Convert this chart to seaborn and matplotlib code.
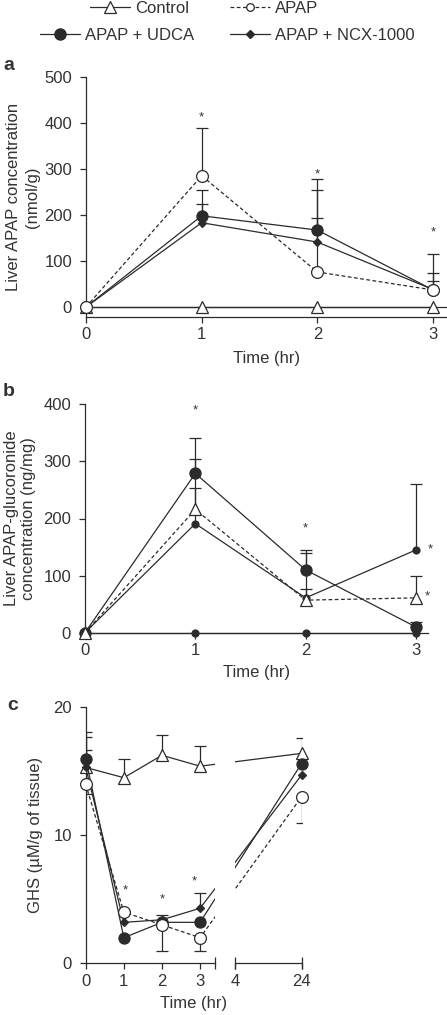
import numpy as np
import matplotlib
matplotlib.use('Agg')
import matplotlib.pyplot as plt
from matplotlib.lines import Line2D
import seaborn as sns

# ---- data ----
groups = ['Control', 'APAP', 'APAP + UDCA', 'APAP + NCX-1000']

# a: liver APAP (nmol/g)
time_ab = [0, 1, 2, 3]
a_control = [0, 0, 0, 0]
a_apap = [0, 285, 76, 37]
a_udca = [0, 198, 167, 37]
a_ncx = [0, 183, 141, 38]
a_apap_hi = [0, 103, 202, 78]
a_udca_hi = [0, 55, 87, 37]
a_ncx_hi = [0, 40, 52, 18]
a_stars_x = [1, 2, 3]
a_stars_y = [411, 288, 162]

# b: liver APAP-glucoronide (ng/mg)
b_control = [0, 0, 0, 0]
b_apap = [0, 216, 57, 61]
b_udca = [0, 279, 110, 10]
b_ncx = [0, 191, 61, 145]
b_apap_hi = [0, 37, 20, 39]
b_udca_hi = [0, 62, 34, 9]
b_ncx_hi = [0, 113, 78, 115]
b_stars_x = [1, 2, 3.13, 3.1]
b_stars_y = [390, 183, 146, 63]

# c: GHS (uM/g of tissue)
time_c = [0, 1, 2, 3, 24]
c_control = [15.3, 14.5, 16.25, 15.4, 16.4]
c_apap = [14.0, 4.0, 3.0, 2.0, 13.0]
c_udca = [16.0, 2.0, 3.2, 3.2, 15.6]
c_ncx = [15.3, 3.2, 3.4, 4.3, 14.7]
c_control_hi = [1.4, 1.5, 1.55, 1.6, 1.2]
c_apap_lo = [0.8, 0, 2.05, 1.0, 2.0]
c_udca_hi = [1.7, 0, 0, 0, 0]
c_ncx_hi = [2.8, 0, 0.4, 1.2, 0]
c_stars_x = [1.05, 2.0, 2.85]
c_stars_y = [5.7, 5.0, 6.4]
c_ticks = [0, 1, 2, 3, 4, 24]

# ---- styling ----
sns.set_style('ticks')
plt.rcParams['font.family'] = ['Liberation Sans', 'DejaVu Sans']
plt.rcParams['font.size'] = 12
TXT = '#333333'
LC = '#2b2b2b'
plt.rcParams.update({'text.color': TXT, 'axes.labelcolor': TXT,
                     'xtick.color': LC, 'ytick.color': LC,
                     'xtick.labelcolor': TXT, 'ytick.labelcolor': TXT,
                     'xtick.labelsize': 12, 'ytick.labelsize': 12,
                     'axes.labelsize': 12,
                     'axes.edgecolor': LC, 'axes.linewidth': 0.9,
                     'xtick.major.width': 0.9, 'ytick.major.width': 0.9,
                     'xtick.major.size': 4.5, 'ytick.major.size': 4.5,
                     'xtick.major.pad': 3, 'ytick.major.pad': 5.5})

DASH = (0, (3, 2))
tri = dict(marker='^', markersize=8, markerfacecolor='white', linestyle='-')
opn = dict(marker='o', markersize=8.5, markerfacecolor='white', linestyle=DASH)
big = dict(marker='o', markersize=8, markerfacecolor=LC, linestyle='-')
dia = dict(marker='D', markersize=4, markerfacecolor=LC, linestyle='-')
dot = dict(marker='o', markersize=5, markerfacecolor=LC, linestyle='-')
tri_d = dict(tri, linestyle=DASH)


def draw(ax, x, y, st, hi=None, lo=None):
    sns.lineplot(x=x, y=y, ax=ax, color=LC, linewidth=0.9, markeredgecolor=LC,
                 markeredgewidth=0.9, errorbar=None, clip_on=False, zorder=3, **st)
    for xi, yi, h in zip(x, y, hi or [0] * len(x)):
        if h > 0:
            ax.vlines(xi, yi, yi + h, color=LC, lw=0.9, zorder=2)
            ax.plot([xi], [yi + h], marker='_', ms=8.5, mew=0.9, color=LC, zorder=2)
    for xi, yi, l in zip(x, y, lo or [0] * len(x)):
        if l > 0:
            ax.vlines(xi, yi - l, yi, color=LC, lw=0.9, zorder=2)
            ax.plot([xi], [yi - l], marker='_', ms=8.5, mew=0.9, color=LC, zorder=2)


def stars(ax, xs, ys):
    for sx, sy in zip(xs, ys):
        ax.text(sx, sy, '*', ha='center', va='center', fontsize=9.5, color=TXT)


W, H = 447, 1015
fig = plt.figure(figsize=(W / 100, H / 100), dpi=100)

# ---- panel a ----
ax = fig.add_axes([86 / W, 1 - 317 / H, (447 - 86) / W, (317 - 76.7) / H])
ax.axhline(0, color=LC, lw=0.9, zorder=2)
draw(ax, time_ab, a_control, tri)
draw(ax, time_ab, a_ncx, dia, hi=a_ncx_hi)
draw(ax, time_ab, a_udca, big, hi=a_udca_hi)
draw(ax, time_ab, a_apap, opn, hi=a_apap_hi)
stars(ax, a_stars_x, a_stars_y)
ax.set_xlim(0, 3.121)
ax.set_ylim(-21.7, 500)
ax.set_xticks(time_ab)
ax.set_yticks([0, 100, 200, 300, 400, 500])
ax.set_xlabel('Time (hr)', labelpad=6)
ax.set_ylabel('Liver APAP concentration\n(nmol/g)', labelpad=3, linespacing=1.3)
sns.despine(ax=ax)

# ---- panel b ----
ax = fig.add_axes([85 / W, 1 - 632.7 / H, (428 - 85) / W, (632.7 - 404.3) / H])
draw(ax, time_ab, b_control, dot)
draw(ax, time_ab, b_ncx, dot, hi=b_ncx_hi)
draw(ax, time_ab, b_udca, big, hi=b_udca_hi)
draw(ax, time_ab, b_apap, tri_d, hi=b_apap_hi)
stars(ax, b_stars_x, b_stars_y)
ax.set_xlim(0, 3.109)
ax.set_ylim(0, 400)
ax.set_xticks(time_ab)
ax.set_yticks([0, 100, 200, 300, 400])
ax.set_xlabel('Time (hr)', labelpad=5)
ax.set_ylabel('Liver APAP-glucoronide\nconcentration (ng/mg)', labelpad=5, linespacing=1.2)
sns.despine(ax=ax)


# ---- panel c (broken time axis) ----
def fwd(t):
    t = np.asarray(t, dtype=float)
    return np.where(t <= 3.4, t, np.where(t <= 4, 3.4 + (t - 3.4) * (0.52 / 0.6),
                                          3.92 + (t - 4) * (1.74 / 20)))


def inv(v):
    v = np.asarray(v, dtype=float)
    return np.where(v <= 3.4, v, np.where(v <= 3.92, 3.4 + (v - 3.4) * (0.6 / 0.52),
                                          4 + (v - 3.92) * (20 / 1.74)))


ax = fig.add_axes([85.7 / W, 1 - 963.3 / H, (301.5 - 85.7) / W, (963.3 - 707.3) / H])
ax.set_xscale('function', functions=(fwd, inv))
draw(ax, time_c, c_control, tri, hi=c_control_hi)
draw(ax, time_c, c_ncx, dia, hi=c_ncx_hi)
draw(ax, time_c, c_udca, big, hi=c_udca_hi)
draw(ax, time_c, c_apap, opn, lo=c_apap_lo)
stars(ax, c_stars_x, c_stars_y)
ax.axvspan(3.4, 4, color='white', zorder=4, lw=0)
ax.set_xlim(0, 24)
ax.set_ylim(0, 20)
ax.set_xticks(c_ticks)
ax.set_xticklabels([str(t) for t in c_ticks])
ax.set_yticks([0, 10, 20])
sns.despine(ax=ax)
ax.spines['bottom'].set_bounds(0, 3.4)
ax.plot([4, 24], [0, 0], color=LC, lw=0.9, clip_on=False, zorder=5)
ax.plot([3.4, 4, 24], [0, 0, 0], ls='none', marker='|', ms=8, mew=0.9,
        color=LC, clip_on=False, zorder=5)
ax.set_xlabel('Time (hr)', labelpad=5.5)
ax.set_ylabel('GHS (\u00b5M/g of tissue)', labelpad=7)

# panel letters
for lab, yy, xx in [('a', 65, 9), ('b', 392, 9), ('c', 705, 13)]:
    fig.text(xx / W, 1 - yy / H, lab, fontsize=14, fontweight='bold',
             ha='center', va='center')

# legend, two rows
handles = [
    (Line2D([], [], color=LC, lw=0.9, marker='^', ms=8, mfc='white', mec=LC, mew=0.9), groups[0], 90, 8.5),
    (Line2D([], [], color=LC, lw=0.9, ls=DASH, marker='o', ms=5.5, mfc='white', mec=LC, mew=0.9), groups[1], 230, 8.5),
    (Line2D([], [], color=LC, lw=0.9, marker='o', ms=8, mfc=LC, mec=LC), groups[2], 40, 35),
    (Line2D([], [], color=LC, lw=0.9, marker='D', ms=4, mfc=LC, mec=LC), groups[3], 230, 35),
]
for h, lab, xx, yy in handles:
    fig.legend(handles=[h], labels=[lab], loc='center left',
               bbox_to_anchor=(xx / W, 1 - yy / H), frameon=False, borderpad=0,
               borderaxespad=0, handlelength=2.4, handletextpad=0.3, fontsize=12)

fig.savefig('out.png', dpi=100)
